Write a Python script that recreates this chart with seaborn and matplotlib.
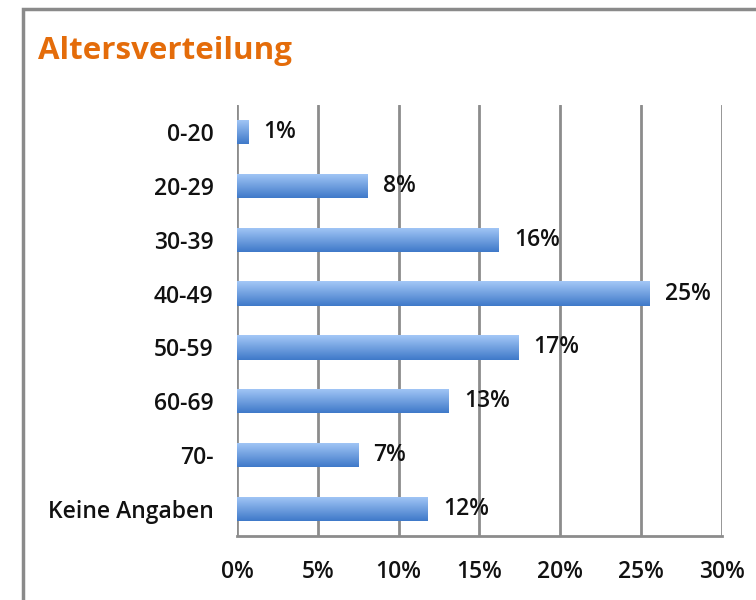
import matplotlib
matplotlib.use("Agg")
import matplotlib.pyplot as plt
import numpy as np
import pandas as pd
import seaborn as sns
from matplotlib.patches import Rectangle
from matplotlib.colors import LinearSegmentedColormap

# values
categories = ["0-20", "20-29", "30-39", "40-49", "50-59", "60-69", "70-", "Keine Angaben"]
shares = [0.7, 8.1, 16.2, 25.5, 17.4, 13.1, 7.5, 11.8]
value_labels = ["1%", "8%", "16%", "25%", "17%", "13%", "7%", "12%"]
tick_values = [0, 5, 10, 15, 20, 25, 30]
tick_labels = ["0%", "5%", "10%", "15%", "20%", "25%", "30%"]

sns.set_theme(style="white")
plt.rcParams['font.family'] = ['Open Sans', 'DejaVu Sans']

df = pd.DataFrame({"Alter": categories, "Anteil": shares})

fig = plt.figure(figsize=(7.56, 6.0), dpi=100)
ax = fig.add_axes([0.3135, 0.1067, 0.9550 - 0.3135, 0.825 - 0.1067])

sns.barplot(ax=ax, data=df, y="Alter", x="Anteil", orient="h",
            color="#6b9de0", width=0.45, saturation=1)

# vertical gradient inside each bar
grad = LinearSegmentedColormap.from_list("bluegrad", ["#a4c8f7", "#3f79c9"])
gimg = np.linspace(0, 1, 100).reshape(-1, 1)
for p in ax.patches:
    x0, y0 = p.get_x(), p.get_y()
    w, h = p.get_width(), p.get_height()
    p.set_facecolor("none")
    p.set_edgecolor("none")
    im = ax.imshow(gimg, cmap=grad, aspect="auto", interpolation="bicubic",
                   extent=(x0, x0 + w, y0 + h, y0), zorder=3)
    im.set_clip_path(p)

lab_font = dict(fontsize=16.5, fontweight="semibold", color="#111111")

ax.set_xlim(0, 30)
ax.set_ylim(len(categories) - 0.5, -0.5)
ax.set_xticks(tick_values)
ax.set_xticklabels(tick_labels, **lab_font)
ax.set_yticks(range(len(categories)))
ax.set_yticklabels(categories, **lab_font)
ax.tick_params(axis="y", length=0, pad=17)
ax.tick_params(axis="x", length=0, pad=17)
ax.set_xlabel("")
ax.set_ylabel("")

ax.grid(axis="x", color="#8c8c8c", linewidth=2)
ax.set_axisbelow(True)
for side in ["top", "right", "left"]:
    ax.spines[side].set_visible(False)
ax.spines["bottom"].set_color("#8c8c8c")
ax.spines["bottom"].set_linewidth(2)

for i, (v, lab) in enumerate(zip(shares, value_labels)):
    ax.annotate(lab, xy=(v, i), xytext=(11, 0), textcoords="offset points",
                va="center", ha="left", **lab_font)

fig.text(0.05, 0.915, "Altersverteilung", fontsize=22.5, fontweight="bold",
         color="#e46c0a", ha="left", va="center")

fig.patches.append(Rectangle((0.0304, -0.05), 1.1, 0.985 + 0.05, transform=fig.transFigure,
                             fill=False, edgecolor="#8a8a8a", linewidth=2.5))

fig.savefig("out.png", dpi=100)
